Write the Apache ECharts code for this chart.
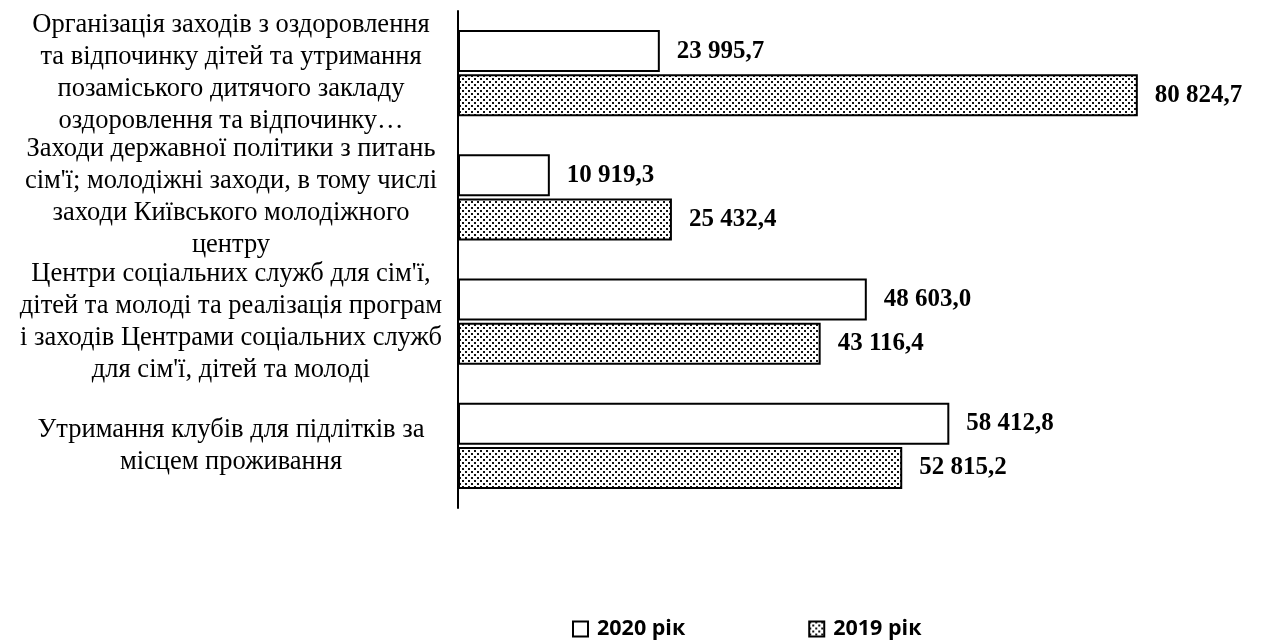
<!DOCTYPE html>
<html>
<head>
<meta charset="utf-8">
<script src="https://cdn.jsdelivr.net/npm/echarts@6/dist/echarts.min.js"></script>
<style>
  html, body { margin: 0; padding: 0; background: #ffffff; }
  #chart { width: 1261px; height: 641px; }
</style>
</head>
<body>
<div id="chart"></div>
<script>
// Budget items (top to bottom), thousand UAH
const categories = [
  "Організація заходів з оздоровлення\nта відпочинку дітей та утримання\nпозаміського дитячого закладу\nоздоровлення та відпочинку…",
  "Заходи державної політики з питань\nсім'ї; молодіжні заходи, в тому числі\nзаходи Київського молодіжного\nцентру",
  "Центри соціальних служб для сім'ї,\nдітей та молоді та реалізація програм\nі заходів Центрами соціальних служб\nдля сім'ї, дітей та молоді",
  "Утримання клубів для підлітків за\nмісцем проживання"
];
const seriesNames = ["2020 рік", "2019 рік"];
const values2020 = [23995.7, 10919.3, 48603.0, 58412.8];
const values2019 = [80824.7, 25432.4, 43116.4, 52815.2];

// dotted fill used for the 2019 bars
function dotPattern() {
  const c = document.createElement('canvas');
  c.width = 6; c.height = 6;
  const g = c.getContext('2d');
  g.fillStyle = '#ffffff';
  g.fillRect(0, 0, 6, 6);
  g.fillStyle = '#111111';
  g.fillRect(0, 0, 2, 2);
  g.fillRect(3, 3, 2, 2);
  return c;
}

// "80 824,7" style number formatting
function fmt(v) {
  const parts = v.toFixed(1).split('.');
  const intPart = parts[0].replace(/\B(?=(\d{3})+(?!\d))/g, ' ');
  return intPart + ',' + parts[1];
}

const valueLabel = {
  show: true,
  position: 'right',
  distance: 17,
  color: '#000',
  fontFamily: 'Liberation Serif',
  fontWeight: 'bold',
  fontSize: 25,
  formatter: p => fmt(p.value)
};

const chart = echarts.init(document.getElementById('chart'), null, { renderer: 'canvas' });
chart.setOption({
  animation: false,
  backgroundColor: '#ffffff',
  grid: { left: 458, top: 11, width: 757, height: 497 },
  xAxis: {
    type: 'value',
    min: 0,
    max: 90000,
    show: false
  },
  yAxis: {
    type: 'category',
    inverse: true,
    data: categories,
    axisLine: { show: true, lineStyle: { color: '#000', width: 2 } },
    axisTick: { show: false },
    axisLabel: {
      interval: 0,
      margin: 227,
      align: 'center',
      color: '#000',
      fontFamily: 'Liberation Serif',
      fontSize: 26.5,
      lineHeight: 32
    }
  },
  legend: {
    left: 567,
    top: 613,
    itemWidth: 15,
    itemHeight: 15,
    itemGap: 123,
    icon: 'rect',
    textStyle: {
      fontFamily: 'Open Sans',
      fontWeight: 'bold',
      fontSize: 21.5,
      color: '#000',
      padding: [0, 0, 0, 4]
    },
    data: seriesNames
  },
  series: [
    {
      name: seriesNames[0],
      type: 'bar',
      data: values2020,
      barWidth: 42,
      barGap: '5%',
      itemStyle: { color: '#ffffff', borderColor: '#000', borderWidth: 2 },
      label: valueLabel
    },
    {
      name: seriesNames[1],
      type: 'bar',
      data: values2019,
      barWidth: 42,
      barGap: '5%',
      itemStyle: {
        color: { image: dotPattern(), repeat: 'repeat' },
        borderColor: '#000',
        borderWidth: 2
      },
      label: valueLabel
    }
  ]
});
</script>
</body>
</html>
